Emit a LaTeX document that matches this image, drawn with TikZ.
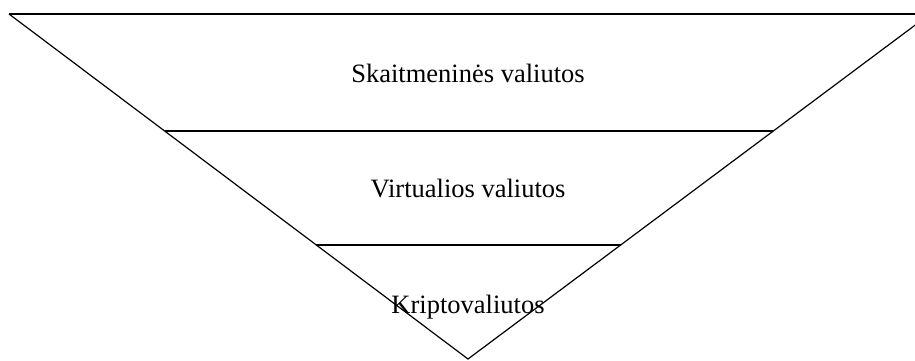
\documentclass[tikz,border=0pt]{standalone}
\usepackage{fontspec}
\setmainfont{Liberation Serif}
\usepackage{tikz}
\usetikzlibrary{positioning, calc}

\begin{document}
\begin{tikzpicture}[
    x=1pt, y=-1pt,
    edge/.style={line width=1.2pt, line join=miter},
    layer/.style={font=\fontsize{26.5}{30}\selectfont, inner sep=0pt, anchor=base},
]
\useasboundingbox (0,0) rectangle (915,360);
\clip (0,0) rectangle (915,360);

% --- outline of the funnel ---
\coordinate (tl) at (9,14);
\coordinate (tr) at (930,14);
\coordinate (apex) at (468,359);
\draw[edge] (tl) -- (apex) -- (tr);
\draw[line width=1.6pt] (tl) -- (tr);

% --- dividing lines ---
\coordinate (m1) at ($(tl)!0.339!(apex)$);
\coordinate (m2) at ($(tr)!0.339!(apex)$);
\coordinate (b1) at ($(tl)!0.6696!(apex)$);
\coordinate (b2) at ($(tr)!0.6696!(apex)$);
\draw[edge] (m1) -- (m2);
\draw[edge] (b1) -- (b2);

% --- labels ---
\node[layer] (digital) at (468,82) {Skaitmeninės valiutos};
\node[layer] (virtual) at (468,197) {Virtualios valiutos};
\node[layer] (crypto) at (468,313) {Kriptovaliutos};

\end{tikzpicture}
\end{document}
